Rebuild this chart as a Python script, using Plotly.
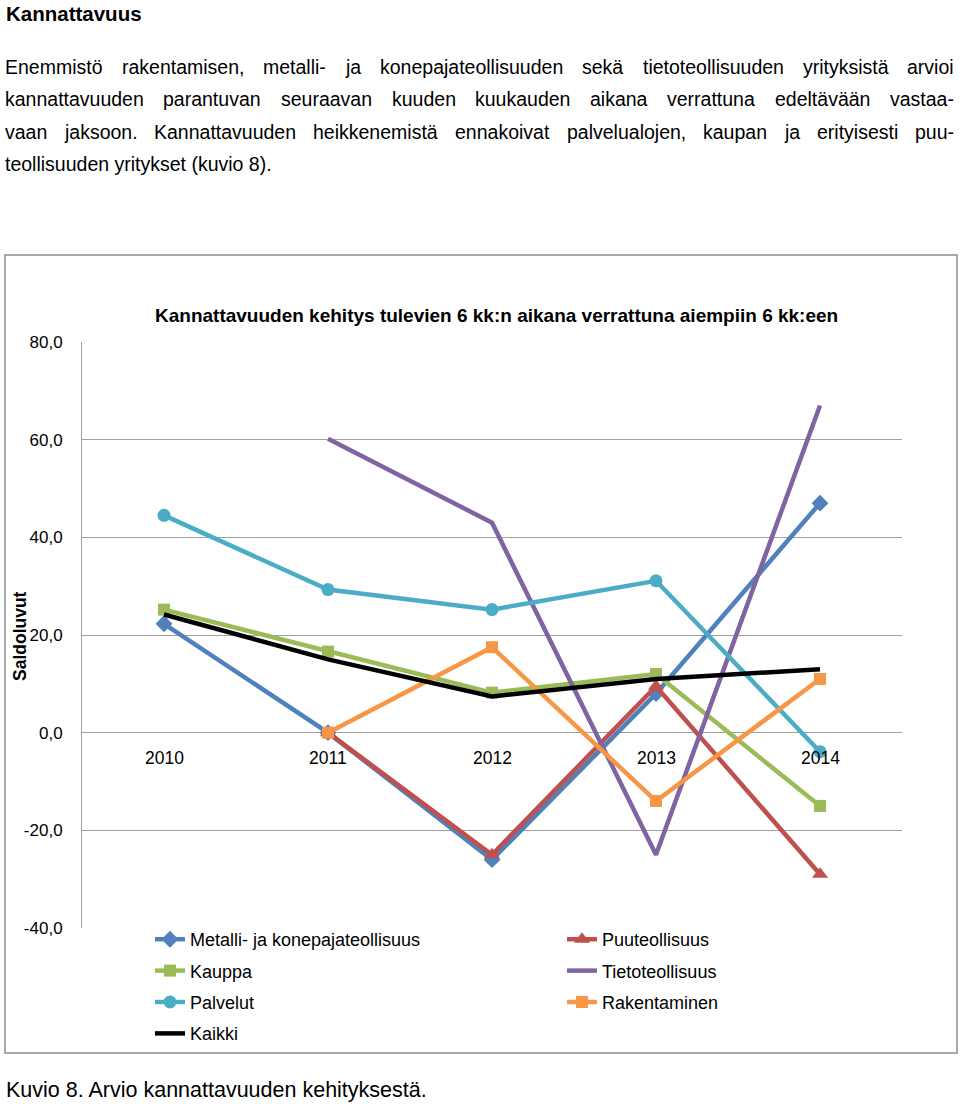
import plotly.graph_objects as go

years = [2010, 2011, 2012, 2013, 2014]
metalli = [22.3, 0.0, -26.0, 8.0, 47.0]
puu = [None, 0.0, -25.0, 9.5, -29.0]
kauppa = [25.2, 16.6, 8.2, 12.0, -15.0]
tieto = [None, 60.2, 43.0, -25.0, 67.0]
palvelut = [44.5, 29.3, 25.2, 31.1, -3.9]
rakentaminen = [None, 0.0, 17.5, -14.0, 11.0]
kaikki = [24.2, 15.0, 7.4, 11.0, 13.0]
y_ticks = [-40, -20, 0, 20, 40, 60, 80]
y_ticktext = [f"{v:.1f}".replace(".", ",") for v in y_ticks]

W, H = 960, 1104
L, R, T, B = 82, 902, 342, 928


def px(x):
    return (x - L) / (R - L)


def py(y):
    return (B - y) / (B - T)


FONT = "Liberation Sans, Arial, sans-serif"

# Arial / Liberation Sans advance widths (1/1000 em) for justification
AW = {" ": 278, "(": 333, ")": 333, ",": 278, "-": 333, ".": 278, ":": 278,
      "E": 667, "K": 667, "a": 556, "b": 556, "c": 500, "d": 556, "e": 556,
      "f": 278, "g": 556, "h": 556, "i": 222, "j": 222, "k": 500, "l": 222,
      "m": 833, "n": 556, "o": 556, "p": 556, "q": 556, "r": 333, "s": 500,
      "t": 278, "u": 556, "v": 500, "w": 722, "x": 500, "y": 500, "z": 500,
      "ä": 556, "ö": 556}


def text_w(s, size):
    return sum(AW.get(ch, 556) for ch in s) * size / 1000.0


series = [
    ("Metalli- ja konepajateollisuus", metalli, "#4F81BD", "diamond", 13, "legend"),
    ("Puuteollisuus", puu, "#C0504D", "triangle-up", 14, "legend2"),
    ("Kauppa", kauppa, "#9BBB59", "square", 12, "legend"),
    ("Tietoteollisuus", tieto, "#8064A2", None, 0, "legend2"),
    ("Palvelut", palvelut, "#4BACC6", "circle", 13, "legend"),
    ("Rakentaminen", rakentaminen, "#F79646", "square", 12, "legend2"),
    ("Kaikki", kaikki, "#000000", None, 0, "legend"),
]

fig = go.Figure()
for i, (name, vals, col, sym, size, leg) in enumerate(series):
    mode = "lines+markers" if sym else "lines"
    fig.add_trace(go.Scatter(
        x=years, y=vals, name=name, mode=mode,
        line=dict(color=col, width=4.5),
        marker=dict(symbol=sym or "circle", size=size, color=col),
        legend=leg, legendgroup=f"g{i}",
    ))

fig.update_layout(
    width=W, height=H,
    margin=dict(l=L, r=W - R, t=T, b=H - B),
    paper_bgcolor="white", plot_bgcolor="white",
    font=dict(family=FONT, size=16, color="#000000"),
    showlegend=True,
    legend=dict(x=px(150), y=py(921), xanchor="left", yanchor="top",
                orientation="v", tracegroupgap=5, font=dict(size=18),
                bgcolor="rgba(0,0,0,0)"),
    legend2=dict(x=px(562), y=py(921), xanchor="left", yanchor="top",
                 orientation="v", tracegroupgap=5, font=dict(size=18),
                 bgcolor="rgba(0,0,0,0)"),
    xaxis=dict(range=[2009.5, 2014.5], showticklabels=False, showgrid=False,
               zeroline=False, showline=False, fixedrange=True),
    yaxis=dict(range=[-40, 80], tickvals=y_ticks, ticktext=y_ticktext,
               showgrid=True, gridcolor="#a0a0a0", gridwidth=1,
               zeroline=False, showline=True, linecolor="#a0a0a0", linewidth=1,
               ticks="", ticklabelstandoff=15,
               tickfont=dict(size=17, family=FONT)),
)

for yr in years:
    fig.add_annotation(x=yr, y=0, xref="x", yref="y", text=str(yr),
                       showarrow=False, yshift=-25, xanchor="center", yanchor="middle",
                       font=dict(size=17.5, family=FONT))

fig.add_annotation(x=px(496), y=py(315), xref="paper", yref="paper",
                   xanchor="center", yanchor="middle",
                   text="<b>Kannattavuuden kehitys tulevien 6 kk:n aikana verrattuna aiempiin 6 kk:een</b>",
                   showarrow=False, font=dict(size=19, family=FONT))
fig.add_annotation(x=px(20), y=py(636), xref="paper", yref="paper",
                   xanchor="center", yanchor="middle",
                   text="<b>Saldoluvut</b>", textangle=-90,
                   showarrow=False, font=dict(size=17.5, family=FONT))

fig.add_shape(type="rect", xref="paper", yref="paper",
              x0=px(5), x1=px(957), y0=py(255), y1=py(1053),
              line=dict(color="#8c8c8c", width=1.5), layer="below")

fig.add_annotation(x=px(4), y=py(13), xref="paper", yref="paper",
                   xanchor="left", yanchor="middle", text="<b>Kannattavuus</b>",
                   showarrow=False, font=dict(size=20.5, family=FONT))

para = [
    "Enemmistö rakentamisen, metalli- ja konepajateollisuuden sekä tietoteollisuuden yrityksistä arvioi",
    "kannattavuuden parantuvan seuraavan kuuden kuukauden aikana verrattuna edeltävään vastaa-",
    "vaan jaksoon. Kannattavuuden heikkenemistä ennakoivat palvelualojen, kaupan ja erityisesti puu-",
    "teollisuuden yritykset (kuvio 8).",
]
justified = [True, True, True, False]
PSIZE = 19.5
X0, X1 = 4, 953
for k, line in enumerate(para):
    yk = py(67 + 32.3 * k)
    words = line.split(" ")
    if justified[k]:
        ww = [text_w(w, PSIZE) for w in words]
        gap = (X1 - X0 - sum(ww)) / (len(words) - 1)
        xc = X0
        for w, wd in zip(words, ww):
            fig.add_annotation(x=px(xc), y=yk, xref="paper", yref="paper",
                               xanchor="left", yanchor="middle", text=w,
                               showarrow=False, borderpad=0,
                               font=dict(size=PSIZE, family=FONT))
            xc += wd + gap
    else:
        fig.add_annotation(x=px(X0), y=yk, xref="paper", yref="paper",
                           xanchor="left", yanchor="middle", text=line,
                           showarrow=False, borderpad=0,
                           font=dict(size=PSIZE, family=FONT))

fig.add_annotation(x=px(4), y=py(1090), xref="paper", yref="paper",
                   xanchor="left", yanchor="middle",
                   text="Kuvio 8. Arvio kannattavuuden kehityksestä.",
                   showarrow=False, font=dict(size=21.5, family=FONT))

fig.write_html("out.html", config={"displayModeBar": False},
               post_script="document.body.style.margin='0px';")
